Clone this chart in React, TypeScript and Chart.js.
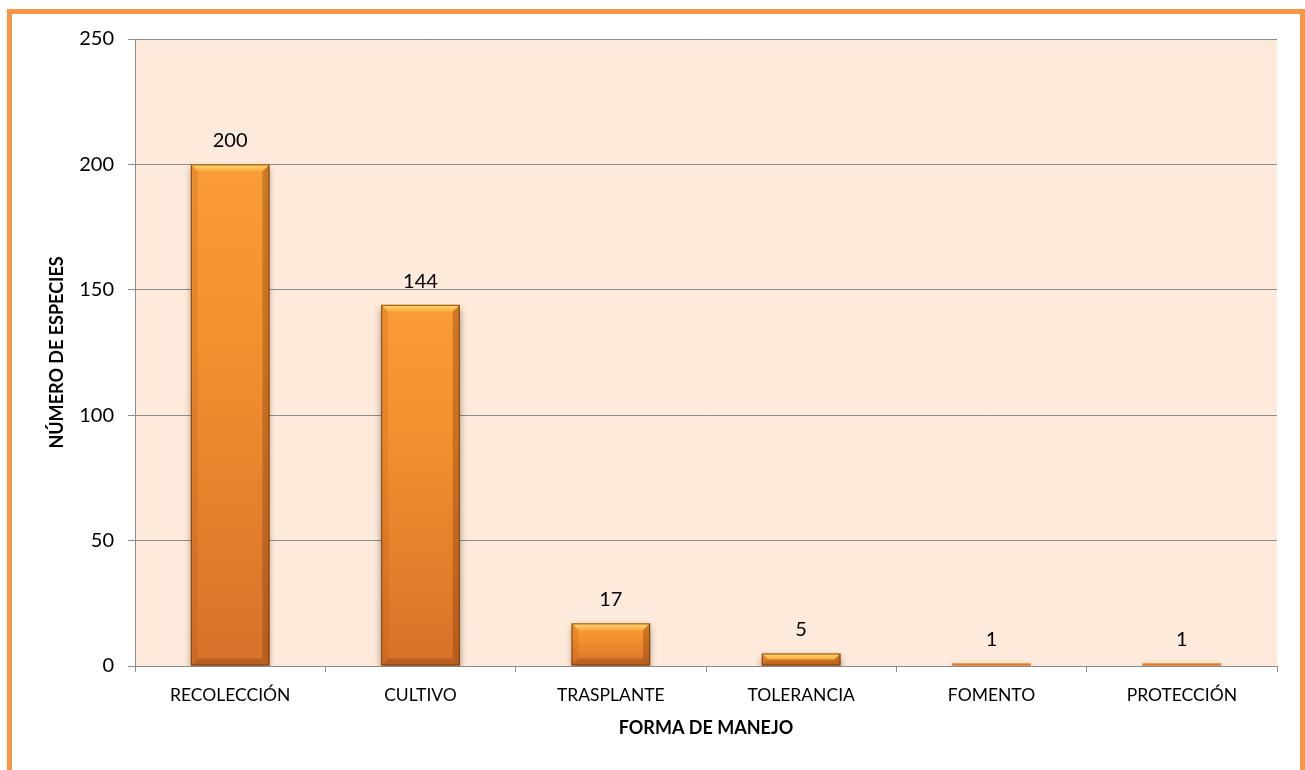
import React, { useEffect, useRef } from "react";
import { Chart, registerables } from "chart.js";

Chart.register(...registerables);

const categories = ["RECOLECCIÓN", "CULTIVO", "TRASPLANTE", "TOLERANCIA", "FOMENTO", "PROTECCIÓN"];
const especies = [200, 144, 17, 5, 1, 1];
const yTitle = "NÚMERO DE ESPECIES";
const xTitle = "FORMA DE MANEJO";

const FONT = "Lato, 'Liberation Sans', sans-serif";
const GRID = "#8c8c8c";

const decorPlugin = {
  id: "decor",
  beforeDraw(chart: any) {
    const { ctx, chartArea: a, width, height } = chart;
    ctx.save();
    ctx.fillStyle = "#ffffff";
    ctx.fillRect(0, 0, width, height);
    ctx.fillStyle = "#FDEADA";
    ctx.fillRect(a.left, a.top, a.right - a.left, a.bottom - a.top);
    ctx.strokeStyle = "#F79646";
    ctx.lineWidth = 5;
    ctx.strokeRect(9.5, 11.5, 1293, 800);
    ctx.restore();
  },
  beforeDatasetsDraw(chart: any) {
    const ctx = chart.ctx;
    ctx.save();
    ctx.shadowColor = "rgba(0,0,0,0.4)";
    ctx.shadowBlur = 7;
    ctx.shadowOffsetY = 4;
  },
  afterDatasetsDraw(chart: any) {
    const ctx = chart.ctx;
    ctx.restore();
    const meta = chart.getDatasetMeta(0);
    const data = chart.data.datasets[0].data as number[];
    meta.data.forEach((el: any, i: number) => {
      const { x, y, base, width } = el.getProps(["x", "y", "base", "width"], true);
      const l = x - width / 2;
      const r = x + width / 2;
      const h = base - y;
      const b = Math.min(7, h / 2);
      ctx.save();
      if (h > 3) {
        const gt = ctx.createLinearGradient(0, y, 0, y + b);
        gt.addColorStop(0, "#FDD870");
        gt.addColorStop(1, "#FAAA3E");
        ctx.fillStyle = gt;
        ctx.beginPath();
        ctx.moveTo(l, y); ctx.lineTo(r, y); ctx.lineTo(r - b, y + b); ctx.lineTo(l + b, y + b); ctx.closePath();
        ctx.fill();
        ctx.fillStyle = "rgba(110,55,10,0.30)";
        ctx.beginPath();
        ctx.moveTo(l, base); ctx.lineTo(r, base); ctx.lineTo(r - b, base - b); ctx.lineTo(l + b, base - b); ctx.closePath();
        ctx.fill();
        ctx.fillStyle = "rgba(170,80,10,0.18)";
        ctx.beginPath();
        ctx.moveTo(l, y); ctx.lineTo(l + b, y + b); ctx.lineTo(l + b, base - b); ctx.lineTo(l, base); ctx.closePath();
        ctx.fill();
        ctx.fillStyle = "rgba(120,55,5,0.35)";
        ctx.beginPath();
        ctx.moveTo(r, y); ctx.lineTo(r - b, y + b); ctx.lineTo(r - b, base - b); ctx.lineTo(r, base); ctx.closePath();
        ctx.fill();
        ctx.strokeStyle = "rgba(110,50,5,0.8)";
        ctx.lineWidth = 1;
        ctx.strokeRect(l + 0.5, y + 0.5, width - 1, h - 1);
      } else {
        ctx.fillStyle = "#E07A2C";
        ctx.fillRect(l, y, width, Math.max(h, 2));
      }
      ctx.restore();
      ctx.save();
      ctx.fillStyle = "#000";
      ctx.font = `20px ${FONT}`;
      ctx.textAlign = "center";
      ctx.textBaseline = "alphabetic";
      ctx.fillText(String(data[i]), x, y - 17);
      ctx.restore();
    });
  },
};

export default function App() {
  const ref = useRef<HTMLCanvasElement>(null);
  useEffect(() => {
    const canvas = ref.current!;
    const chart = new Chart(canvas, {
      type: "bar",
      data: {
        labels: categories,
        datasets: [
          {
            data: especies,
            barPercentage: 0.413,
            categoryPercentage: 1,
            borderWidth: 0,
            backgroundColor: (c: any) => {
              const chart = c.chart;
              const ys = chart.scales?.y;
              const v = c.raw;
              if (!ys || v == null) return "#F0892F";
              const top = ys.getPixelForValue(v);
              const base = ys.getPixelForValue(0);
              if (!isFinite(top) || !isFinite(base) || base - top < 0.5) return "#F0892F";
              const g = chart.ctx.createLinearGradient(0, top, 0, base);
              g.addColorStop(0, "#FA9C37");
              g.addColorStop(0.35, "#F3912F");
              g.addColorStop(1, "#D8712A");
              return g;
            },
          },
        ],
      },
      options: {
        responsive: false,
        animation: false,
        layout: { padding: { top: 39, right: 28, left: 0, bottom: 0 } },
        plugins: { legend: { display: false }, tooltip: { enabled: false } },
        scales: {
          y: {
            min: 0,
            max: 250,
            ticks: { stepSize: 50, color: "#000", font: { family: FONT, size: 20 }, padding: 14 },
            grid: { color: GRID, tickLength: 7, lineWidth: 1 },
            border: { color: GRID, width: 1 },
            title: {
              display: true,
              text: yTitle,
              color: "#000",
              font: { family: FONT, size: 18, weight: "bold" },
              padding: { top: 46, bottom: 0 },
            },
            afterFit: (s: any) => { s.width = 135; },
          },
          x: {
            offset: true,
            ticks: { color: "#000", font: { family: FONT, size: 17.5 }, padding: 13, maxRotation: 0 },
            grid: { display: true, drawOnChartArea: false, offset: true, color: GRID, tickLength: 6 },
            border: { color: GRID, width: 1 },
            title: {
              display: true,
              text: xTitle,
              color: "#000",
              font: { family: FONT, size: 18, weight: "bold" },
              padding: { top: 0, bottom: 31 },
            },
            afterFit: (s: any) => { s.height = 104; },
          },
        },
      },
      plugins: [decorPlugin],
    });
    return () => chart.destroy();
  }, []);
  return (
    <div style={{ position: "absolute", left: 0, top: 0, width: 1305, height: 770 }}>
      <canvas ref={ref} width={1305} height={770} />
    </div>
  );
}
